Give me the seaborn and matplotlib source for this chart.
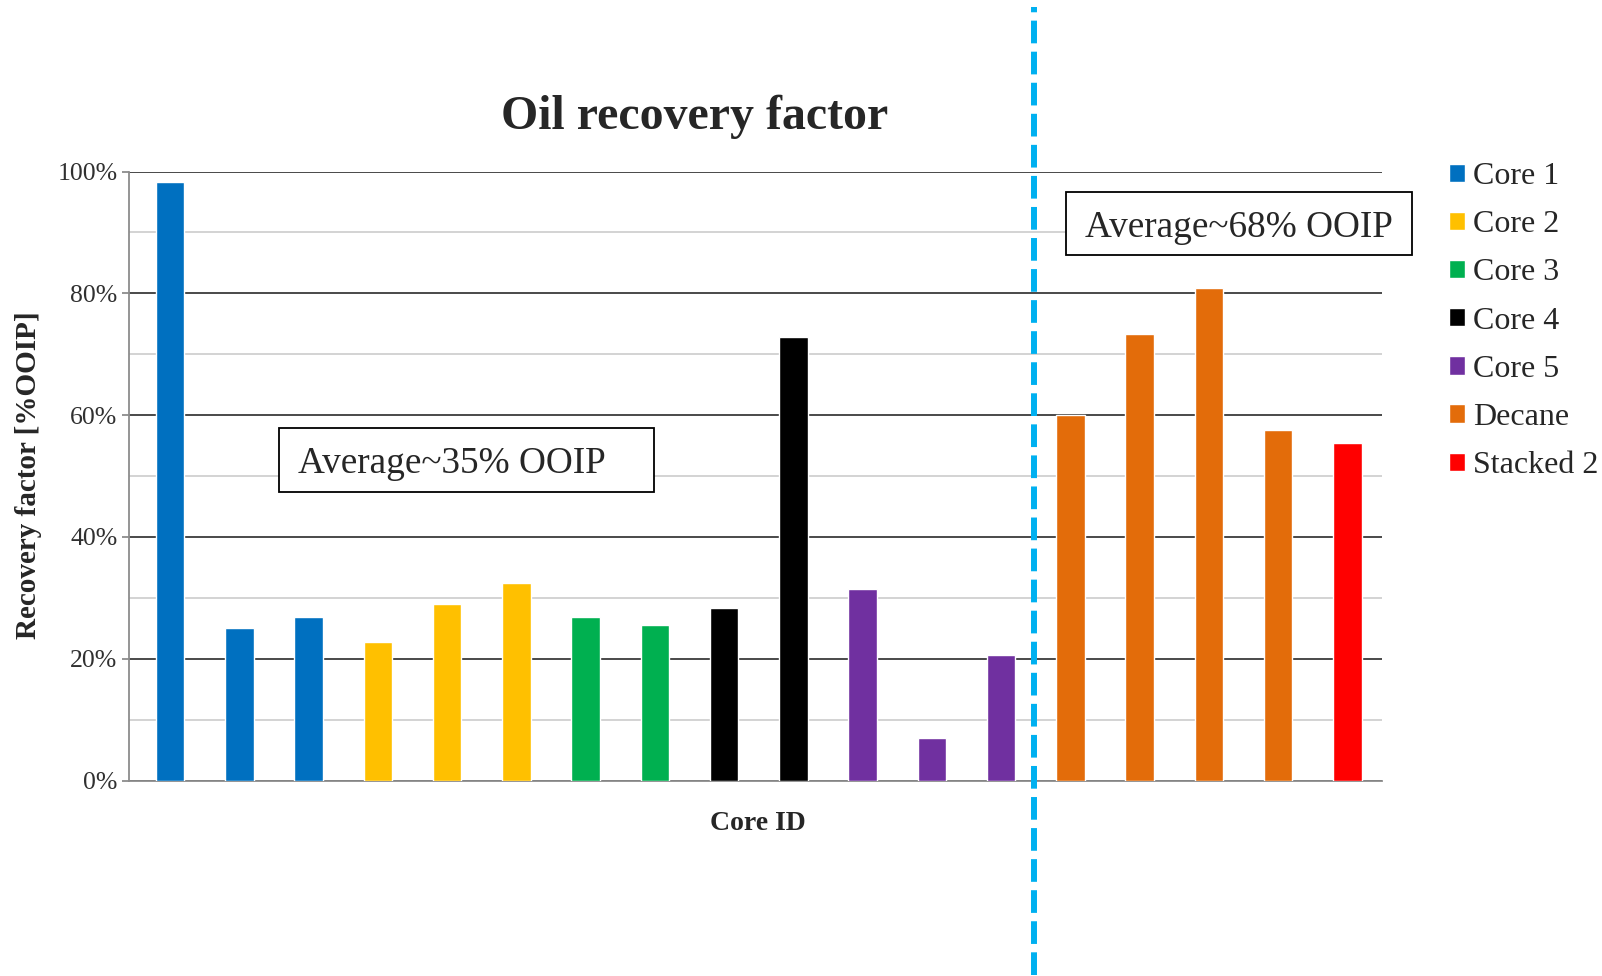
import matplotlib
matplotlib.use("Agg")
import matplotlib.pyplot as plt
from matplotlib.patches import Rectangle
from matplotlib.ticker import MultipleLocator, PercentFormatter
import seaborn as sns
import pandas as pd

# ---- data ----
core_ids = [str(i) for i in range(1, 19)]
groups = ["Core 1"] * 3 + ["Core 2"] * 3 + ["Core 3"] * 2 + ["Core 4"] * 2 + \
         ["Core 5"] * 3 + ["Decane"] * 4 + ["Stacked 2"]
recovery = [98.3, 25.0, 26.8, 22.8, 29.0, 32.4, 26.8, 25.5, 28.4, 72.8,
            31.5, 7.0, 20.6, 60.1, 73.3, 80.9, 57.6, 55.4]
group_names = ["Core 1", "Core 2", "Core 3", "Core 4", "Core 5", "Decane", "Stacked 2"]
group_colors = ["#0070C0", "#FFC000", "#00B050", "#000000", "#7030A0", "#E36C0A", "#FF0000"]
y_ticks = [0, 20, 40, 60, 80, 100]
note_left = "Average~35% OOIP"
note_right = "Average~68% OOIP"

df = pd.DataFrame({"core": core_ids, "group": groups, "rf": recovery})

sns.set_theme(style="white")
plt.rcParams["font.family"] = ["Liberation Serif", "DejaVu Serif"]

fig = plt.figure(figsize=(16.02, 9.76), dpi=100)
ax = fig.add_axes([0.0803, 0.2002, 0.7824, 0.624])

sns.barplot(data=df, x="core", y="rf", hue="group", hue_order=group_names,
            palette=dict(zip(group_names, group_colors)), dodge=False,
            width=0.41, saturation=1, ax=ax, legend=True, zorder=3)

ax.set_ylim(0, 100)
ax.set_xlim(-0.6, 17.5)
ax.yaxis.set_major_locator(MultipleLocator(20))
ax.yaxis.set_minor_locator(MultipleLocator(10))
ax.yaxis.set_major_formatter(PercentFormatter(decimals=0))
ax.set_yticks(y_ticks)
ax.grid(which="major", axis="y", color="#3a3a3a", linewidth=1.3, zorder=0)
ax.grid(which="minor", axis="y", color="#d0d0d0", linewidth=1.3, zorder=0)
ax.set_axisbelow(True)
ax.set_xticks([])
ax.set_xlabel("")
ax.set_ylabel("")
for s in ["top", "right"]:
    ax.spines[s].set_visible(False)
ax.spines["left"].set_color("#8c8c8c")
ax.spines["bottom"].set_color("#8c8c8c")
ax.spines["left"].set_linewidth(1.3)
ax.spines["bottom"].set_linewidth(1.3)
ax.tick_params(axis="y", which="major", left=True, length=5, width=1.3,
               color="#8c8c8c", labelsize=18.5, labelcolor="#303030", pad=3)
ax.tick_params(axis="y", which="minor", left=False)

# dashed separator
ax.axvline(12.47, ymin=-0.32, ymax=1.27, clip_on=False, color="#00B0F0",
           linewidth=4.3, dashes=(3.8, 1.4), zorder=5)

# legend
handles, labels = ax.get_legend_handles_labels()
ax.legend(handles, labels, loc="upper left", bbox_to_anchor=(0.8965, 0.847),
          bbox_transform=fig.transFigure, frameon=False, fontsize=23,
          handlelength=0.5, handleheight=0.5, handletextpad=0.25,
          labelspacing=0.6, borderaxespad=0)

# text boxes
fig.patches.append(Rectangle((0.1741, 0.4954), 0.2341, 0.0661, transform=fig.transFigure,
                             fill=True, facecolor="white", edgecolor="black",
                             linewidth=1.3, zorder=6))
fig.text(0.186, 0.5245, note_left, fontsize=26.8, ha="left", va="center", zorder=7)
fig.patches.append(Rectangle((0.6652, 0.7383), 0.2163, 0.065, transform=fig.transFigure,
                             fill=True, facecolor="white", edgecolor="black",
                             linewidth=1.3, zorder=6))
fig.text(0.6773, 0.7668, note_right, fontsize=26.8, ha="left", va="center", zorder=7)

fig.text(0.4338, 0.8808, "Oil recovery factor", fontsize=34.5, fontweight="bold",
         ha="center", va="center")
fig.text(0.4733, 0.1563, "Core ID", fontsize=20, fontweight="bold",
         ha="center", va="center")
fig.text(0.0175, 0.513, "Recovery factor [%OOIP]", fontsize=21, fontweight="bold",
         ha="center", va="center", rotation=90)

fig.savefig("out.png", dpi=100)
